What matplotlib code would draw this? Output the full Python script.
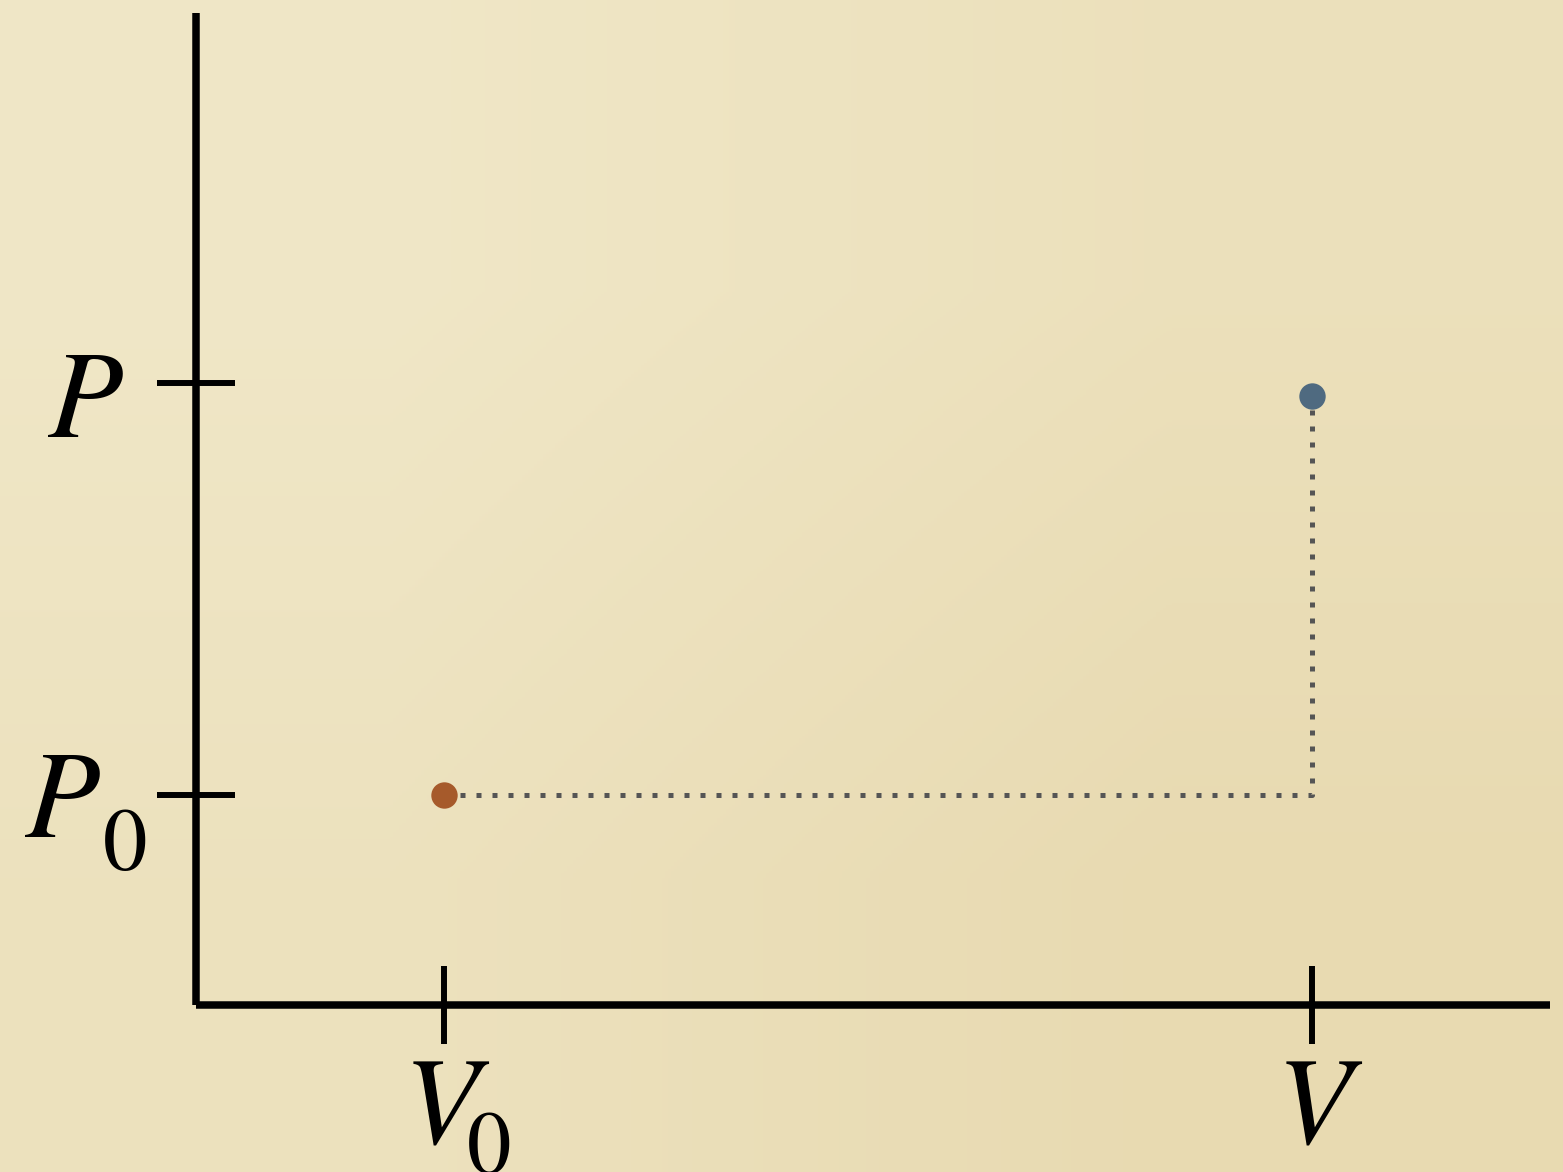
import numpy as np
import matplotlib
matplotlib.use("Agg")
import matplotlib.pyplot as plt
from matplotlib.transforms import offset_copy

# ---- data ----
v_ticks = [1.0, 4.5]
v_letters = ["V", "V"]
v_subs = ["0", ""]
p_ticks = [1.0, 2.96]
p_letters = ["P", "P"]
p_subs = ["0", ""]
state_v = [1.0, 4.5]
state_p = [1.0, 2.9]
state_colors = ["#a65a2b", "#4f6a80"]
path_v = [1.0, 4.5, 4.5]
path_p = [1.0, 1.0, 2.9]

W, H = 1563, 1172
DPI = 100
fig = plt.figure(figsize=(W / DPI, H / DPI), dpi=DPI)
ax = fig.add_axes([0, 0, 1, 1])

# pixel scale: x origin at 196 px (248 px/unit), y origin at 1005 px from top (210 px/unit)
xs, ys = 248.0, 210.0
x0, y0 = 196.0, 1005.0
ax.set_xlim(-x0 / xs, (W - x0) / xs)
ax.set_ylim(-(H - y0) / ys, y0 / ys)

# background gradient
bg = np.array([[[0.940, 0.905, 0.780], [0.925, 0.880, 0.735]],
               [[0.928, 0.885, 0.745], [0.910, 0.855, 0.695]]])
ax.imshow(bg, extent=(0, 1, 0, 1), transform=ax.transAxes, aspect="auto",
          interpolation="bilinear", zorder=0)

# axes spines at data origin
for s in ["top", "right"]:
    ax.spines[s].set_visible(False)
ax.spines["left"].set_position(("data", 0))
ax.spines["bottom"].set_position(("data", 0))
ax.spines["left"].set_bounds(0, (y0 - 13) / ys)
ax.spines["bottom"].set_bounds(0, (1550 - x0) / xs)
for s in ["left", "bottom"]:
    ax.spines[s].set_linewidth(5.4)
    ax.spines[s].set_color("black")
    ax.spines[s].set_capstyle("butt")
    ax.spines[s].set_zorder(3)

ax.set_xticks(v_ticks)
ax.set_yticks(p_ticks)
ax.set_xticklabels([])
ax.set_yticklabels([])
ax.tick_params(direction="inout", length=56, width=4.3, color="black")

# dotted path and state points
ax.plot(path_v, path_p, color="#555555", lw=3.6, linestyle=(0, (1, 2.2)),
        dash_capstyle="butt", solid_capstyle="butt", zorder=2)
for v, p, c in zip(state_v, state_p, state_colors):
    ax.plot([v], [p], "o", color=c, markersize=19, markeredgewidth=0, zorder=4)

big, small = 89, 64
font = ["STIXGeneral", "Liberation Serif"]

def place(x, y, dx, dy, s, size, style, ha):
    tr = offset_copy(ax.transData, fig=fig, x=dx, y=dy, units="dots")
    ax.text(x, y, s, transform=tr, fontsize=size, fontstyle=style, family=font,
            ha=ha, va="baseline", color="black", zorder=5)

for v, L, sub in zip(v_ticks, v_letters, v_subs):
    if sub:
        place(v, 0, -3, -138, L, big, "italic", "center")
        place(v, 0, 23, -168, sub, small, "normal", "left")
    else:
        place(v, 0, 2, -138, L, big, "italic", "center")

for p, L, sub in zip(p_ticks, p_letters, p_subs):
    if sub:
        place(0, p, -96, -42, L, big, "italic", "right")
        place(0, p, -93, -75, sub, small, "normal", "left")
    else:
        place(0, p, -73, -54, L, big, "italic", "right")

fig.savefig("out.png", dpi=DPI)
